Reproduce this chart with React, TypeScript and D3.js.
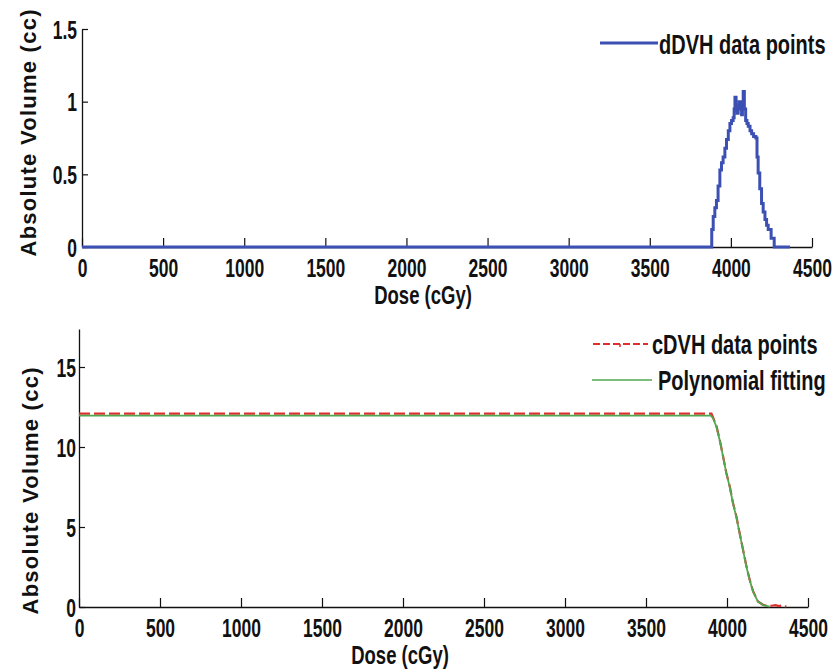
import { useEffect, useRef } from "react";
import * as d3 from "d3";

// top panel: differential DVH
const dDoseCGy = [0, 3874, 3882, 3891, 3901, 3911, 3921, 3932, 3942, 3952, 3963, 3973, 3984, 3994, 4004, 4014, 4020, 4025, 4032, 4039, 4045, 4051, 4058, 4066, 4071, 4076, 4083, 4091, 4099, 4107, 4118, 4128, 4140, 4154, 4161, 4168, 4178, 4189, 4199, 4210, 4220, 4230, 4248, 4267, 4364];
const dVolumeCC = [0, 0, 0.12, 0.21, 0.27, 0.32, 0.42, 0.53, 0.58, 0.62, 0.68, 0.74, 0.8, 0.85, 0.87, 0.89, 0.95, 1.03, 0.94, 0.92, 0.97, 1.0, 0.95, 0.91, 1.0, 1.07, 0.95, 0.87, 0.85, 0.83, 0.8, 0.78, 0.76, 0.75, 0.62, 0.51, 0.4, 0.3, 0.24, 0.19, 0.15, 0.12, 0.06, 0, 0];

// bottom panel: cumulative DVH and its polynomial fit
const cDoseCGy = [0, 3904, 3914, 3935, 3955, 3976, 3996, 4017, 4037, 4058, 4078, 4099, 4120, 4140, 4161, 4191, 4222, 4253, 4275, 4300, 4320, 4345, 4366];
const cVolumeCC = [12.08, 12.08, 11.85, 11.3, 10.46, 9.41, 8.37, 7.54, 6.5, 5.66, 4.62, 3.58, 2.54, 1.71, 0.98, 0.35, 0.14, 0.05, 0.08, 0.12, 0.06, 0.1, 0.03];
const fitDoseCGy = [0, 3900, 3914, 3935, 3955, 3976, 3996, 4017, 4037, 4058, 4078, 4099, 4120, 4140, 4161, 4191, 4222, 4263];
const fitVolumeCC = [11.96, 11.96, 11.8, 11.25, 10.42, 9.38, 8.35, 7.5, 6.47, 5.62, 4.6, 3.56, 2.52, 1.69, 0.96, 0.34, 0.12, 0.02];

const xTicks = [0, 500, 1000, 1500, 2000, 2500, 3000, 3500, 4000, 4500];
const topYTicks = [0, 0.5, 1, 1.5];
const botYTicks = [0, 5, 10, 15];

const FONT = "'Liberation Sans', Arial, sans-serif";
const SY = 1.35;
const TICK_SY = 1.45;
const BLUE = "#3c50b4";
const RED = "#de2e2e";
const GREEN = "#4fa84f";

export default function App() {
  const ref = useRef<SVGSVGElement | null>(null);

  useEffect(() => {
    if (!ref.current) return;
    const svg = d3.select(ref.current);
    svg.selectAll("*").remove();

    const panel = (
      xRange: [number, number],
      yDomain: [number, number],
      yRange: [number, number],
      yTicks: number[],
      yPad: number,
      xLabelX: number,
      yLabelPos: [number, number]
    ) => {
      const x = d3.scaleLinear().domain([0, 4500]).range(xRange);
      const y = d3.scaleLinear().domain(yDomain).range(yRange);
      const g = svg.append("g");

      const ax = g
        .append("g")
        .attr("transform", `translate(0,${yRange[0]})`)
        .call(
          d3.axisBottom(x).tickValues(xTicks).tickSize(-9).tickSizeOuter(0).tickFormat(d3.format("d"))
        );
      ax.selectAll("text")
        .attr("y", 0)
        .attr("dy", null)
        .attr("transform", `translate(0,30) scale(1,${TICK_SY})`)
        .attr("fill", "#111")
        .style("font-size", "17.5px")
        .style("font-weight", "bold")
        .style("font-family", FONT);

      const ay = g
        .append("g")
        .attr("transform", `translate(${xRange[0]},0)`)
        .call(d3.axisLeft(y).tickValues(yTicks).tickSize(-6).tickSizeOuter(0).tickPadding(yPad).tickFormat(d3.format("")));
      ay.selectAll("text")
        .attr("x", null)
        .attr("dy", null)
        .attr("transform", `translate(${-yPad},9) scale(1,${TICK_SY})`)
        .attr("fill", "#111")
        .style("font-size", "17.5px")
        .style("font-weight", "bold")
        .style("font-family", FONT);
      g.selectAll(".domain").attr("stroke", "#111").attr("stroke-width", 1.3);
      g.selectAll(".tick line").attr("stroke", "#111").attr("stroke-width", 1.2);

      g.append("text")
        .attr("transform", `translate(${xLabelX},${yRange[0] + 57}) scale(1,${SY})`)
        .attr("text-anchor", "middle")
        .attr("fill", "#111")
        .style("font-size", "18.5px")
        .style("font-weight", "bold")
        .style("font-family", FONT)
        .text("Dose (cGy)");

      g.append("text")
        .attr("transform", `translate(${yLabelPos[0] + 8},${yLabelPos[1]}) rotate(-90)`)
        .attr("text-anchor", "middle")
        .attr("textLength", 247)
        .attr("lengthAdjust", "spacing")
        .attr("fill", "#111")
        .style("font-size", "22px")
        .style("font-weight", "bold")
        .style("font-family", FONT)
        .text("Absolute Volume (cc)");

      return { g, x, y };
    };

    const legendText = (g: any, tx: number, ty: number, label: string) =>
      g
        .append("text")
        .attr("transform", `translate(${tx},${ty}) scale(1,${SY})`)
        .attr("fill", "#111")
        .style("font-size", "20px")
        .style("font-weight", "bold")
        .style("font-family", FONT)
        .text(label);

    // top panel
    const top = panel([82, 812], [0, 1.5], [247, 29], topYTicks, 5, 423, [28, 133]);
    const topLine = d3
      .line<number>()
      .x((_, i) => top.x(dDoseCGy[i]))
      .y((d) => top.y(d))
      .curve(d3.curveStepAfter);
    top.g
      .append("path")
      .datum(dVolumeCC)
      .attr("d", topLine)
      .attr("fill", "none")
      .attr("stroke", BLUE)
      .attr("stroke-width", 3);
    top.g.append("line").attr("x1", 600).attr("x2", 658).attr("y1", 43).attr("y2", 43).attr("stroke", BLUE).attr("stroke-width", 2.8);
    legendText(top.g, 659, 54, "dDVH data points");

    // bottom panel
    const bot = panel([79, 808], [0, 17.375], [607, 329], botYTicks, 3, 400, [30, 491]);
    const redLine = d3
      .line<number>()
      .x((_, i) => bot.x(cDoseCGy[i]))
      .y((d) => bot.y(d));
    bot.g
      .append("path")
      .datum(cVolumeCC)
      .attr("d", redLine)
      .attr("fill", "none")
      .attr("stroke", RED)
      .attr("stroke-width", 2.2)
      .attr("stroke-dasharray", "11 4");
    const greenLine = d3
      .line<number>()
      .x((_, i) => bot.x(fitDoseCGy[i]))
      .y((d) => bot.y(d));
    bot.g
      .append("path")
      .datum(fitVolumeCC)
      .attr("d", greenLine)
      .attr("fill", "none")
      .attr("stroke", GREEN)
      .attr("stroke-width", 1.8);

    bot.g.append("line").attr("x1", 593).attr("x2", 648).attr("y1", 344).attr("y2", 344)
      .attr("stroke", RED).attr("stroke-width", 2.2).attr("stroke-dasharray", "7 3");
    bot.g.append("line").attr("x1", 620).attr("x2", 620).attr("y1", 344).attr("y2", 347)
      .attr("stroke", RED).attr("stroke-width", 1.5);
    legendText(bot.g, 652, 354, "cDVH data points");
    bot.g.append("line").attr("x1", 592).attr("x2", 652).attr("y1", 380).attr("y2", 380)
      .attr("stroke", GREEN).attr("stroke-width", 1.6);
    legendText(bot.g, 658, 390, "Polynomial fitting");
  }, []);

  return (
    <svg
      ref={ref}
      width={832}
      height={670}
      style={{ position: "absolute", left: 0, top: 0, background: "#fff" }}
    />
  );
}
